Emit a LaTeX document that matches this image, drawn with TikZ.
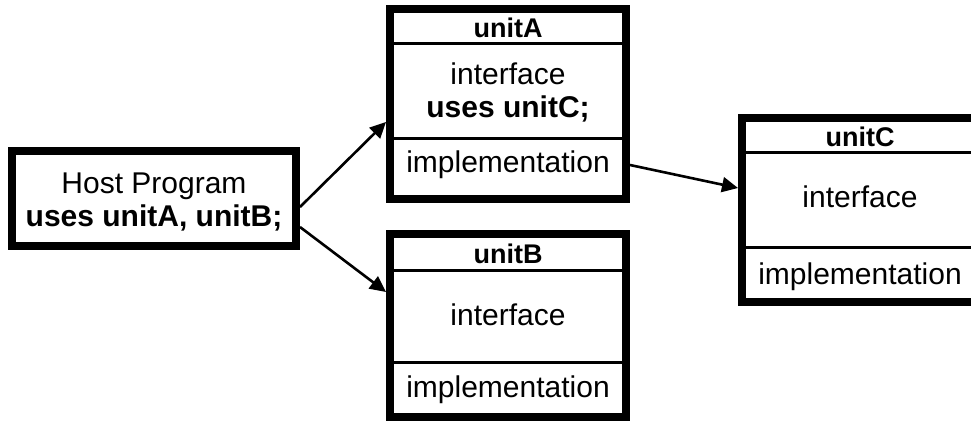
\documentclass[tikz,border=0pt]{standalone}
\usepackage{fontspec}
\setmainfont{Liberation Sans}
\usetikzlibrary{arrows.meta}

\begin{document}
\begin{tikzpicture}[x=1pt, y=-1pt, every node/.style={font=\fontsize{30}{33}\selectfont, inner sep=0pt}, >={Triangle[length=16pt, width=15pt]}, box/.style={draw, line width=8pt, minimum width=236pt}, ttl/.style={font=\bfseries\fontsize{27}{29}\selectfont}, sep/.style={line width=3pt}, link/.style={->, line width=2.6pt}]
	\clip (0,0) rectangle (971,423);
	% host program
	\node[box, minimum width=284pt, minimum height=95pt] (host) at (154,198.5) {};
	\node[align=center] (hosttxt) at (154,201.5) {Host Program\\\textbf{uses unitA, unitB;}};
	% unitA
	\node[box, minimum height=190pt] (A) at (508,104) {};
	\node[ttl] (Atitle) at (508,28) {unitA};
	\node[align=center] (Aif) at (508,92.5) {interface\\\textbf{uses unitC;}};
	\node (Aimpl) at (508,165) {implementation};
	\coordinate (A1) at (508,43);
	\coordinate (A2) at (508,138);
	\draw[sep] (A1 -| A.west) -- (A1 -| A.east);
	\draw[sep] (A2 -| A.west) -- (A2 -| A.east);
	% unitB
	\node[box, minimum height=183pt] (B) at (508,325.5) {};
	\node[ttl] (Btitle) at (508,254) {unitB};
	\node (Bif) at (508,315) {interface};
	\node (Bimpl) at (508,390) {implementation};
	\coordinate (B1) at (508,270);
	\coordinate (B2) at (508,362);
	\draw[sep] (B1 -| B.west) -- (B1 -| B.east);
	\draw[sep] (B2 -| B.west) -- (B2 -| B.east);
	% unitC
	\node[box, minimum width=238pt, minimum height=184pt] (C) at (861,210) {};
	\node[ttl] (Ctitle) at (860,137) {unitC};
	\node (Cif) at (860,197) {interface};
	\node (Cimpl) at (860,277) {implementation};
	\coordinate (C1) at (860,152);
	\coordinate (C2) at (860,247);
	\draw[sep] (C1 -| C.west) -- (C1 -| C.east);
	\draw[sep] (C2 -| C.west) -- (C2 -| C.east);
	% uses
	\draw[link] ([yshift=-8.5pt]host.east) -- ([yshift=-18pt]A.west);
	\draw[link] ([yshift=-28.5pt]host.east) -- ([yshift=33.5pt]B.west);
	\draw[link] (Aimpl -| A.east) -- ([yshift=22pt]C.west);
\end{tikzpicture}
\end{document}
